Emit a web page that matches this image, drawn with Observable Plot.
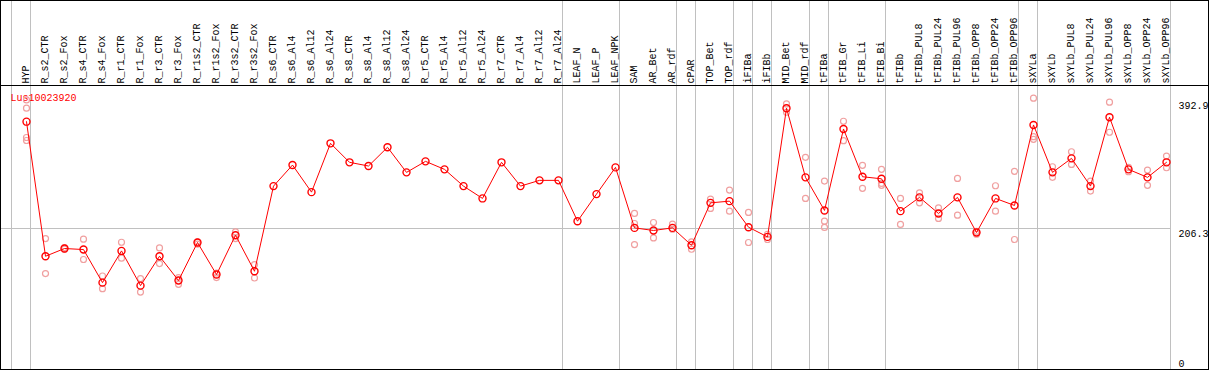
<!DOCTYPE html>
<html><head><meta charset="utf-8">
<script src="https://cdn.jsdelivr.net/npm/d3@7"></script>
<script src="https://cdn.jsdelivr.net/npm/@observablehq/plot@0.6"></script>
<style>html,body{margin:0;padding:0;background:#fff;} #chart svg{display:block;}</style>
</head><body><div id="chart"></div>
<script>
const geneName = "Lus10023920";
const categories = ["HYP","R_s2_CTR","R_s2_Fox","R_s4_CTR","R_s4_Fox","R_r1_CTR","R_r1_Fox","R_r3_CTR","R_r3_Fox","R_r1s2_CTR","R_r1s2_Fox","R_r3s2_CTR","R_r3s2_Fox",
 "R_s6_CTR","R_s6_Al4","R_s6_Al12","R_s6_Al24","R_s8_CTR","R_s8_Al4","R_s8_Al12","R_s8_Al24","R_r5_CTR","R_r5_Al4","R_r5_Al12","R_r5_Al24","R_r7_CTR","R_r7_Al4","R_r7_Al12","R_r7_Al24",
 "LEAF_N","LEAF_P","LEAF_NPK","SAM","AR_Bet","AR_rdf","cPAR","TOP_Bet","TOP_rdf","iFIBa","iFIBb","MID_Bet","MID_rdf","tFIBa","tFIB_Gr","tFIB_Li","tFIB_Bi",
 "tFIBb","tFIBb_PUL8","tFIBb_PUL24","tFIBb_PUL96","tFIBb_OPP8","tFIBb_OPP24","tFIBb_OPP96","sXYLa","sXYLb","sXYLb_PUL8","sXYLb_PUL24","sXYLb_PUL96","sXYLb_OPP8","sXYLb_OPP24","sXYLb_OPP96"];
const meanValues = [362.6,165.7,177.0,175.5,127.1,173.5,122.7,165.7,130.1,185.8,138.9,196.5,143.7,
 268.3,299.1,259.5,330.9,303.1,297.7,325.1,288.4,304.5,292.8,268.3,250.3,303.1,268.3,276.7,276.7,217.0,256.6,295.7,
 207.2,203.4,207.2,181.8,243.8,246.3,208.2,194.0,382.3,281.1,232.7,351.9,282.0,279.0,231.7,251.8,228.3,251.8,200.4,250.3,240.0,357.8,288.4,308.9,268.3,369.1,292.8,281.1,303.1];
const replicateValues = [
 [394.4,382.3,339.4,335.0],[191.6,140.3],[178.2,176.0],[190.6,160.9],[136.8,118.3],[186.2,162.8],[133.0,113.3],[177.9,155.0],[134.5,124.6],[186.7,183.3],[141.2,134.5],[201.3,191.6],[153.5,133.9],
 [],[],[],[],[],[],[],[],[],[],[],[],[],[],[],[],[],[],[],
 [228.3,213.6,182.8],[215.1,192.5],[212.6,205.3],[186.7,175.9],[249.3,235.6],[262.5,231.7],[229.8,185.8],[197.9,190.2],[388.6,376.4],[310.4,250.3],[275.7,217.0,207.8],[363.2,334.8],[298.7,265.0],[292.8,272.3,269.4],
 [250.3,212.2],[258.5,243.8],[236.5,221.0],[279.6,225.8],[202.3,197.9],[268.8,231.7],[289.9,190.2],[396.9,340.6,336.8],[296.6,281.1],[318.6,300.1],[275.7,261.0],[391.1,347.1],[295.7,289.3],[291.8,269.4],[312.3,295.2]];
const groupStarts = ["HYP","R_s2_CTR","LEAF_N","SAM","cPAR","TOP_Bet","iFIBa","iFIBb","MID_Bet","tFIBa","tFIB_Gr","tFIBb","sXYLa","sXYLb"];
const yTicks = [392.9, 206.3];
const yZeroTick = [0];
const yMax = 415.5;

const reps = replicateValues.flatMap((vals, i) => vals.map(v => ({cat: categories[i], value: v})));
const means = categories.map((c, i) => ({cat: c, value: meanValues[i]}));
const mono = "Liberation Mono";

const chart = Plot.plot({
  width: 1209, height: 370,
  marginTop: 85, marginBottom: 1, marginLeft: 26, marginRight: 43,
  x: {type: "point", domain: categories, padding: 0, round: false, axis: null},
  y: {domain: [0, yMax], axis: null},
  style: {fontFamily: mono, fontSize: "10px", background: "white", color: "black"},
  marks: [
    Plot.ruleY([206.3], {stroke: "#c0c0c0", insetLeft: -26, insetRight: -4}),
    Plot.ruleX(groupStarts, {x: d => d, dx: -15, insetTop: -85, insetBottom: -1, stroke: "#c0c0c0"}),
    Plot.ruleX([categories[categories.length - 1]], {x: d => d, dx: 4, insetTop: -85, insetBottom: -1, stroke: "#c0c0c0"}),
    Plot.ruleY([yMax], {stroke: "black", insetLeft: -26, insetRight: -43}),
    Plot.frame({stroke: "black", insetTop: -85, insetLeft: -26, insetRight: -42, insetBottom: 0}),
    Plot.text(categories, {x: d => d, frameAnchor: "top", rotate: -90, textAnchor: "start", lineAnchor: "middle", dx: -1, dy: -2, fill: "black"}),
    Plot.text(yTicks, {y: d => d, text: d => String(d), frameAnchor: "right", textAnchor: "start", lineAnchor: "top", dx: 12, dy: 1, fill: "black"}),
    Plot.text(yZeroTick, {y: d => d, text: d => String(d), frameAnchor: "right", textAnchor: "start", lineAnchor: "bottom", dx: 12, dy: -3, fill: "black"}),
    Plot.text([geneName], {frameAnchor: "top-left", dx: -16, dy: 8, textAnchor: "start", lineAnchor: "top", fill: "red"}),
    Plot.dot(reps, {x: "cat", y: "value", r: 3, stroke: "#f0a0a0", strokeWidth: 1.2}),
    Plot.line(means, {x: "cat", y: "value", stroke: "red", strokeWidth: 1}),
    Plot.dot(means, {x: "cat", y: "value", r: 3.5, stroke: "red", strokeWidth: 1.4})
  ]
});
document.getElementById("chart").appendChild(chart);
</script>
</body></html>
